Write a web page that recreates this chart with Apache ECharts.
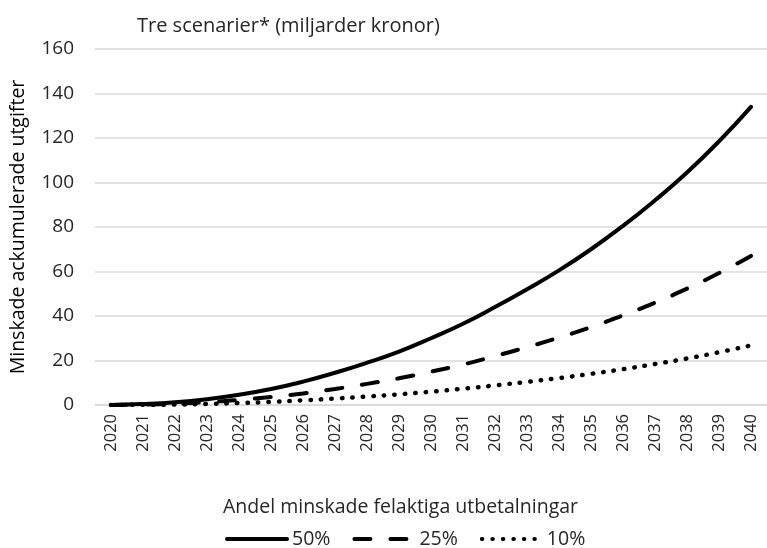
<!DOCTYPE html>
<html>
<head>
<meta charset="utf-8" />
<title>Tre scenarier</title>
<script src="https://cdn.jsdelivr.net/npm/echarts@6/dist/echarts.min.js"></script>
<style>
  html, body { margin: 0; padding: 0; background: #fff; }
  #chart { width: 767px; height: 548px; }
</style>
</head>
<body>
<div id="chart"></div>
<script>
// år på x-axeln
var years = ['2020', '2021', '2022', '2023', '2024', '2025', '2026', '2027', '2028', '2029', '2030',
  '2031', '2032', '2033', '2034', '2035', '2036', '2037', '2038', '2039', '2040'];

// minskade ackumulerade utgifter, miljarder kronor
var s50 = [0, 0.4, 1.2, 2.6, 4.6, 7.2, 10.5, 14.5, 19, 24, 30, 36.5, 44, 52, 60.5, 70, 80.5, 92, 104.5, 118.5, 134];
var s25 = [0, 0.2, 0.6, 1.3, 2.3, 3.6, 5.2, 7.2, 9.5, 12, 15, 18.2, 22, 26, 30.3, 35, 40.3, 46, 52.3, 59.3, 67];
var s10 = [0, 0.1, 0.2, 0.5, 0.9, 1.4, 2.1, 2.9, 3.8, 4.8, 6, 7.3, 8.8, 10.4, 12.1, 14, 16.1, 18.4, 20.9, 23.7, 26.8];

var yTicks = [0, 20, 40, 60, 80, 100, 120, 140, 160];

var font = 'Open Sans';
var txt = '#262626';

var chart = echarts.init(document.getElementById('chart'));

function lineSeries(name, data, type, w) {
  return {
    name: name,
    type: 'line',
    data: data,
    smooth: true,
    symbol: 'none',
    animation: false,
    lineStyle: { color: '#000', width: w, type: type, cap: 'round' },
    itemStyle: { color: '#000' }
  };
}

chart.setOption({
  textStyle: { fontFamily: font, color: txt },
  title: [{
    text: 'Tre scenarier* (miljarder kronor)',
    left: 132, top: 11,
    textStyle: { fontFamily: font, fontSize: 20, fontWeight: 'normal', color: txt }
  }, {
    text: 'Andel minskade felaktiga utbetalningar',
    left: 218, top: 492,
    textStyle: { fontFamily: font, fontSize: 19.5, fontWeight: 'normal', color: txt }
  }],
  legend: {
    top: 524, left: 220,
    itemWidth: 60, itemHeight: 14, itemGap: 22,
    itemStyle: { opacity: 0 },
    lineStyle: { width: 4 },
    textStyle: { fontFamily: font, fontSize: 19.5, color: txt },
    data: ['50%', '25%', '10%']
  },
  grid: { left: 93, right: -3, top: 49, bottom: 143 },
  xAxis: {
    type: 'category',
    data: years,
    boundaryGap: true,
    axisLine: { show: true, lineStyle: { color: '#d9d9d9', width: 1.5 } },
    axisTick: { show: false },
    axisLabel: { rotate: 90, fontFamily: font, fontSize: 16.5, color: txt, margin: 9 }
  },
  yAxis: {
    type: 'value',
    min: yTicks[0], max: yTicks[yTicks.length - 1], interval: 20,
    name: 'Minskade ackumulerade utgifter',
    nameLocation: 'middle', nameGap: 67,
    nameTextStyle: { fontFamily: font, fontSize: 19.5, color: '#000' },
    axisLine: { show: false },
    axisTick: { show: false },
    axisLabel: { fontFamily: font, fontSize: 19, color: txt, margin: 21 },
    splitLine: { lineStyle: { color: '#d9d9d9', width: 1.5 } }
  },
  series: [
    lineSeries('50%', s50, 'solid', 4),
    lineSeries('25%', s25, [16, 20], 4),
    lineSeries('10%', s10, [0.5, 10], 4.5)
  ]
});

window.onresize = function() {
  chart.resize();
};
</script>
</body>
</html>
